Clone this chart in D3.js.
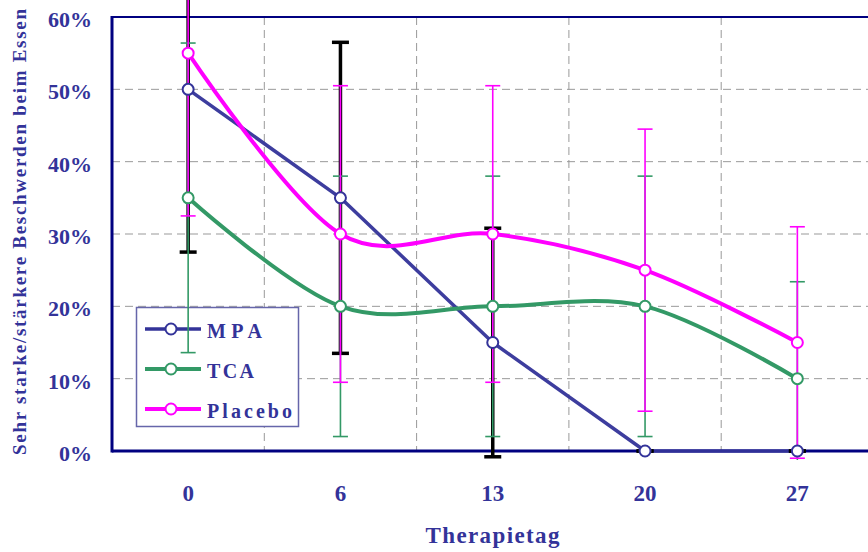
<!DOCTYPE html>
<html>
<head>
<meta charset="utf-8">
<script src="https://cdn.jsdelivr.net/npm/d3@7"></script>
<style>
    html, body { margin: 0; padding: 0; background: #fff; }
    svg { display: block; font-family: 'Liberation Serif', 'DejaVu Serif', serif; }
</style>
</head>
<body>
<svg></svg>
<script>
const days = ['0', '6', '13', '20', '27']
const yTicks = [0, 0.1, 0.2, 0.3, 0.4, 0.5, 0.6]

const mpa = [0.5, 0.35, 0.15, 0, 0]
const mpaErr = [0.225, 0.215, 0.158, 0, 0]
const tca = [0.35, 0.2, 0.2, 0.2, 0.1]
const tcaErr = [0.214, 0.18, 0.18, 0.18, 0.134]
const placebo = [0.55, 0.3, 0.3, 0.25, 0.15]
const placeboErr = [0.225, 0.205, 0.205, 0.195, 0.16]

const series = [
    { name: 'MPA', values: mpa, err: mpaErr, color: '#333399', errColor: '#000', errWidth: 3.5, cap: 17, width: 3.5, curve: d3.curveLinear },
    { name: 'TCA', values: tca, err: tcaErr, color: '#339966', errColor: '#339966', errWidth: 1.6, cap: 15, width: 4, curve: d3.curveCardinal.tension(0) },
    { name: 'Placebo', values: placebo, err: placeboErr, color: '#ff00ff', errColor: '#ff00ff', errWidth: 1.6, cap: 15, width: 4, curve: d3.curveCardinal.tension(0) }
]

const width = 868,
    height = 552
const textColor = '#333399',
    axisColor = '#000080'
const plotLeft = 112,
    plotTop = 17,
    plotBottom = 451

const svg = d3.select('svg').attr('width', width).attr('height', height)

const x = d3.scaleBand().domain(days).range([plotLeft, plotLeft + 5 * 152.3]).padding(0)
const cx = (d) => x(d) + x.bandwidth() / 2
const y = d3.scaleLinear().domain([0, 0.6]).range([plotBottom, plotTop])

svg.append('defs')
    .append('clipPath')
    .attr('id', 'clip')
    .append('rect')
    .attr('x', 0)
    .attr('y', -200)
    .attr('width', width)
    .attr('height', plotBottom + 209)

// grid
const grid = svg.append('g').attr('stroke', '#999').attr('stroke-width', 1).attr('stroke-dasharray', '8,5')
grid.selectAll('.h')
    .data(yTicks.filter((t) => t > 0 && t < 0.6))
    .join('line')
    .attr('class', 'h')
    .attr('x1', plotLeft)
    .attr('x2', width)
    .attr('y1', (d) => y(d))
    .attr('y2', (d) => y(d))
grid.selectAll('.v')
    .data(days.slice(1))
    .join('line')
    .attr('class', 'v')
    .attr('x1', (d) => x(d))
    .attr('x2', (d) => x(d))
    .attr('y1', plotTop)
    .attr('y2', plotBottom)

// axes
svg.append('line')
    .attr('x1', plotLeft).attr('x2', width)
    .attr('y1', plotTop).attr('y2', plotTop)
    .attr('stroke', axisColor).attr('stroke-width', 2)
svg.append('line')
    .attr('x1', plotLeft).attr('x2', plotLeft)
    .attr('y1', plotTop - 1).attr('y2', plotBottom + 1.5)
    .attr('stroke', axisColor).attr('stroke-width', 3)
svg.append('line')
    .attr('x1', plotLeft).attr('x2', width)
    .attr('y1', plotBottom).attr('y2', plotBottom)
    .attr('stroke', axisColor).attr('stroke-width', 3)

svg.append('g')
    .selectAll('text')
    .data(yTicks)
    .join('text')
    .attr('x', 92)
    .attr('y', (d) => y(d) + 10)
    .attr('text-anchor', 'end')
    .attr('font-size', 22)
    .attr('font-weight', 'bold')
    .attr('fill', textColor)
    .text(d3.format('.0%'))

svg.append('g')
    .selectAll('text')
    .data(days)
    .join('text')
    .attr('x', cx)
    .attr('y', 501)
    .attr('text-anchor', 'middle')
    .attr('font-size', 23)
    .attr('font-weight', 'bold')
    .attr('fill', textColor)
    .text((d) => d)

svg.append('text')
    .attr('x', 492.5)
    .attr('y', 543)
    .attr('text-anchor', 'middle')
    .attr('font-size', 23)
    .attr('font-weight', 'bold')
    .attr('fill', textColor)
    .attr('textLength', 134)
    .attr('lengthAdjust', 'spacing')
    .text('Therapietag')

svg.append('text')
    .attr('transform', 'translate(26,232) rotate(-90)')
    .attr('text-anchor', 'middle')
    .attr('font-size', 19)
    .attr('font-weight', 'bold')
    .attr('fill', textColor)
    .attr('textLength', 446)
    .attr('lengthAdjust', 'spacing')
    .text('Sehr starke/stärkere Beschwerden beim Essen')

// legend
const legend = svg.append('g')
legend.append('rect')
    .attr('x', 136.5).attr('y', 307.5)
    .attr('width', 162).attr('height', 119)
    .attr('fill', '#fff')
    .attr('stroke', '#6666aa')
    .attr('stroke-width', 1.5)
const legendY = [329, 369, 409]
const legendW = [55, 47, 85]
series.forEach((s, i) => {
    const ly = legendY[i]
    legend.append('line')
        .attr('x1', 145).attr('x2', 201)
        .attr('y1', ly).attr('y2', ly)
        .attr('stroke', s.color).attr('stroke-width', s.width)
    legend.append('circle')
        .attr('cx', 171).attr('cy', ly).attr('r', 5.5)
        .attr('fill', '#fff').attr('stroke', s.color).attr('stroke-width', 2)
    legend.append('text')
        .attr('x', 207).attr('y', ly + 8.5)
        .attr('font-size', 20)
        .attr('font-weight', 'bold')
        .attr('fill', textColor)
        .attr('textLength', legendW[i])
        .attr('lengthAdjust', 'spacing')
        .text(s.name)
})

// lines
series.forEach((s) => {
    const line = d3.line()
        .x((d, i) => cx(days[i]))
        .y((d) => y(d))
        .curve(s.curve)
    svg.append('path')
        .attr('d', line(s.values))
        .attr('fill', 'none')
        .attr('stroke', s.color)
        .attr('stroke-width', s.width)
        .attr('stroke-linejoin', 'round')
        .attr('opacity', s.name === 'MPA' ? 0.95 : 1)
})

// error bars
const bars = svg.append('g').attr('clip-path', 'url(#clip)')
series.forEach((s) => {
    const g = bars.append('g').attr('stroke', s.errColor).attr('stroke-width', s.errWidth)
    s.values.forEach((v, i) => {
        const px = cx(days[i])
        const lo = y(v - s.err[i]),
            hi = y(v + s.err[i])
        g.append('line').attr('x1', px).attr('x2', px).attr('y1', lo).attr('y2', hi)
        g.append('line').attr('x1', px - s.cap / 2).attr('x2', px + s.cap / 2).attr('y1', lo).attr('y2', lo)
        g.append('line').attr('x1', px - s.cap / 2).attr('x2', px + s.cap / 2).attr('y1', hi).attr('y2', hi)
    })
})

// markers
series.forEach((s) => {
    svg.append('g')
        .selectAll('circle')
        .data(s.values)
        .join('circle')
        .attr('cx', (d, i) => cx(days[i]))
        .attr('cy', (d) => y(d))
        .attr('r', 5.5)
        .attr('fill', '#fff')
        .attr('stroke', s.color)
        .attr('stroke-width', 2)
})
</script>
</body>
</html>
